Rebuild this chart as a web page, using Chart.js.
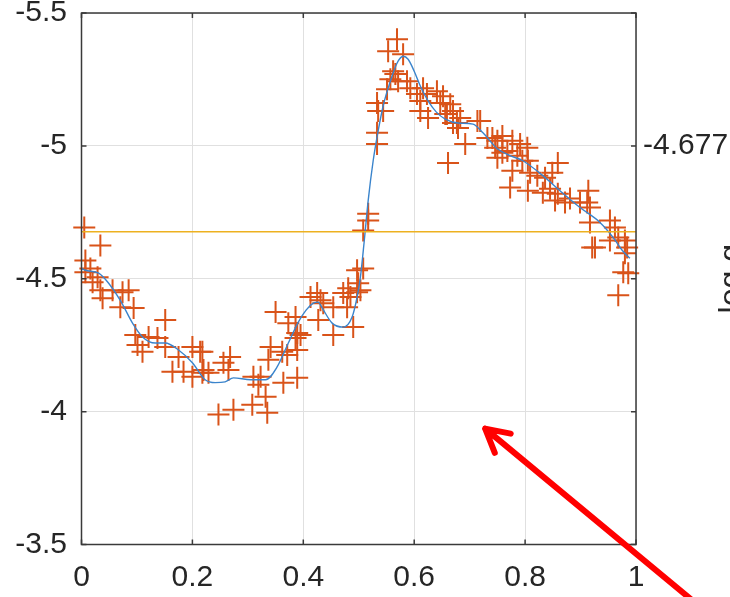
<!DOCTYPE html>
<html>
<head>
<meta charset="utf-8">
<script src="https://cdn.jsdelivr.net/npm/chart.js@4/dist/chart.umd.min.js"></script>
<style>
  html, body { margin: 0; padding: 0; background: #fff; overflow: hidden; }
  canvas { display: block; }
</style>
</head>
<body>
<canvas id="c" width="730" height="597"></canvas>
<script>
// Axis ticks
const xTicks = [0, 0.2, 0.4, 0.6, 0.8, 1];
const yTicks = [-5.5, -5, -4.5, -4, -3.5];
const rightTickValues = [-5];
const rightTickLabels = ['-4.677'];
const rightCaption = 'log g';

// Reference level
const refLevel = -4.677;

// Observed phase / magnitude samples
const obsX = [
  0.005, 0.034, 0.007, 0.016, 0.029, 0.007, 0.020, 0.034, 0.038, 0.056,
  0.074, 0.085, 0.094, 0.070, 0.151, 0.097, 0.121, 0.137, 0.101, 0.110,
  0.151, 0.175, 0.200, 0.218, 0.184, 0.164, 0.200, 0.218, 0.229,
  0.220, 0.214, 0.256, 0.268, 0.265, 0.310, 0.323, 0.319, 0.332, 0.308,
  0.274, 0.247, 0.335, 0.364, 0.389, 0.337, 0.362, 0.371, 0.389, 0.350,
  0.373, 0.386, 0.389, 0.386, 0.395, 0.413, 0.425, 0.431, 0.436, 0.454,
  0.454, 0.427, 0.472, 0.485, 0.490, 0.479, 0.499, 0.503, 0.497, 0.341,
  0.481, 0.497, 0.508, 0.508, 0.517, 0.517, 0.533, 0.533, 0.535, 0.544,
  0.533, 0.551, 0.557, 0.566, 0.562, 0.571, 0.553, 0.569, 0.580, 0.587,
  0.593, 0.605, 0.611, 0.616, 0.623, 0.611, 0.625, 0.641, 0.647, 0.659,
  0.670, 0.677, 0.661,
  0.652, 0.665, 0.656, 0.670, 0.683, 0.679, 0.692, 0.714, 0.719, 0.732,
  0.741, 0.750, 0.759, 0.746, 0.750, 0.759, 0.768, 0.777, 0.791, 0.804,
  0.786, 0.795, 0.805, 0.777, 0.773, 0.809, 0.805, 0.822, 0.832,
  0.859, 0.849, 0.836, 0.845, 0.859, 0.854, 0.872, 0.881, 0.899, 0.914,
  0.912, 0.917, 0.917, 0.953, 0.962, 0.921, 0.926, 0.953, 0.968, 0.980,
  0.984, 0.980, 0.986, 0.977, 0.968
];
const obsY = [
  -4.693, -4.625, -4.569, -4.539, -4.506, -4.524, -4.487, -4.457, -4.427, -4.457,
  -4.449, -4.457, -4.390, -4.393, -4.345, -4.288, -4.281, -4.277, -4.251, -4.225,
  -4.243, -4.206, -4.243, -4.225, -4.150, -4.150, -4.131, -4.146, -4.146,
  -4.157, -4.225, -4.184, -4.206, -4.157, -4.131, -4.131, -4.101, -4.056, -4.026,
  -4.007, -3.989, -3.996, -4.109, -4.127, -4.195, -4.225, -4.213, -4.232, -4.375,
  -4.333, -4.356, -4.296, -4.277, -4.288, -4.431, -4.446, -4.419, -4.408, -4.393,
  -4.288, -4.345, -4.446, -4.431, -4.318, -4.393, -4.483, -4.457, -4.532, -4.243,
  -4.464, -4.449, -4.539, -4.682, -4.719, -4.745, -5.007, -5.049, -5.131, -5.131,
  -5.161, -5.213, -5.251, -5.270, -5.281, -5.243, -5.356, -5.401, -5.345, -5.243,
  -5.217, -5.195, -5.169, -5.217, -5.195, -5.131, -5.105, -5.206, -5.161, -5.120,
  -5.131, -5.086, -4.936,
  -5.187, -5.157, -5.120, -5.086, -5.105, -5.067, -5.007, -5.094, -5.094, -5.030,
  -5.030, -5.019, -5.037, -4.993, -4.955, -4.974, -4.981, -5.019, -5.007, -4.993,
  -4.963, -4.944, -4.944, -4.906, -4.843, -4.899, -4.831, -4.888, -4.824,
  -4.936, -4.899, -4.880, -4.839, -4.820, -4.794, -4.787, -4.802, -4.787, -4.831,
  -4.787, -4.768, -4.712, -4.719, -4.693, -4.618, -4.618, -4.644, -4.655, -4.644,
  -4.618, -4.596, -4.521, -4.524, -4.438
];

// Smoothed fit through the samples
const fitX = [
  0.000, 0.007, 0.031, 0.049, 0.070, 0.092, 0.110, 0.133, 0.151, 0.175,
  0.200, 0.223, 0.241, 0.259, 0.274, 0.305, 0.332, 0.353, 0.373, 0.391,
  0.405, 0.418, 0.427, 0.434, 0.452, 0.472, 0.488, 0.497, 0.503, 0.510,
  0.517, 0.526, 0.535, 0.544, 0.557, 0.569, 0.580, 0.589, 0.600, 0.611,
  0.625, 0.640, 0.656, 0.679, 0.706, 0.724, 0.750, 0.773, 0.796, 0.832,
  0.863, 0.899, 0.935, 0.959, 0.975, 0.989
];
const fitY = [
  -4.539, -4.532, -4.521, -4.483, -4.419, -4.333, -4.281, -4.258, -4.258, -4.232,
  -4.184, -4.120, -4.109, -4.112, -4.127, -4.120, -4.120, -4.169, -4.258, -4.337,
  -4.382, -4.408, -4.412, -4.390, -4.333, -4.318, -4.356, -4.431, -4.506, -4.644,
  -4.794, -4.944, -5.056, -5.150, -5.243, -5.311, -5.337, -5.326, -5.281, -5.225,
  -5.169, -5.127, -5.101, -5.086, -5.082, -5.049, -4.989, -4.963, -4.944, -4.888,
  -4.831, -4.768, -4.712, -4.655, -4.607, -4.577
];

// Pointer annotation (data coordinates: tip, then tail)
const arrowTip = [0.728, -3.936];
const arrowTail = [1.169, -3.173];

const FONT = "'Liberation Sans', Arial, sans-serif";
const INK = '#262626';
const NO_TICK = 'rgba(0,0,0,0)';

const framePlugin = {
  id: 'frame',
  afterDatasetsDraw(chart) {
    const { ctx, chartArea: a, scales } = chart;
    ctx.save();
    // box
    ctx.strokeStyle = '#3a3a3a';
    ctx.lineWidth = 1.5;
    ctx.strokeRect(a.left, a.top, a.right - a.left, a.bottom - a.top);
    // inward tick marks on all four sides
    const t = 5;
    ctx.beginPath();
    xTicks.forEach(v => {
      const p = scales.x.getPixelForValue(v);
      ctx.moveTo(p, a.bottom); ctx.lineTo(p, a.bottom - t);
      ctx.moveTo(p, a.top); ctx.lineTo(p, a.top + t);
    });
    yTicks.forEach(v => {
      const p = scales.y.getPixelForValue(v);
      ctx.moveTo(a.left, p); ctx.lineTo(a.left + t, p);
      ctx.moveTo(a.right, p); ctx.lineTo(a.right - t, p);
    });
    ctx.stroke();
    ctx.restore();
  },
  afterDraw(chart) {
    const { ctx, chartArea: a, scales } = chart;
    ctx.save();
    // right-hand axis caption, rotated
    ctx.fillStyle = INK;
    ctx.font = '32px ' + FONT;
    ctx.translate(a.right + 105, (a.top + a.bottom) / 2);
    ctx.rotate(-Math.PI / 2);
    ctx.textAlign = 'center';
    ctx.textBaseline = 'alphabetic';
    ctx.fillText(rightCaption, 0, 0);
    ctx.restore();

    // red pointer arrow
    const tx = scales.x.getPixelForValue(arrowTip[0]);
    const ty = scales.y.getPixelForValue(arrowTip[1]);
    const sx = scales.x.getPixelForValue(arrowTail[0]);
    const sy = scales.y.getPixelForValue(arrowTail[1]);
    const ang = Math.atan2(sy - ty, sx - tx);
    const head = 26, spread = 0.5;
    ctx.save();
    ctx.strokeStyle = '#ff0000';
    ctx.lineWidth = 6;
    ctx.lineCap = 'round';
    ctx.lineJoin = 'round';
    ctx.beginPath();
    ctx.moveTo(sx, sy);
    ctx.lineTo(tx, ty);
    ctx.moveTo(tx + head * Math.cos(ang - spread), ty + head * Math.sin(ang - spread));
    ctx.lineTo(tx, ty);
    ctx.lineTo(tx + head * Math.cos(ang + spread), ty + head * Math.sin(ang + spread));
    ctx.stroke();
    ctx.restore();
  }
};

const tickFont = { family: FONT, size: 30, lineHeight: 0.7 };

new Chart(document.getElementById('c'), {
  type: 'scatter',
  data: {
    datasets: [
      {
        type: 'line',
        data: [{ x: 0, y: refLevel }, { x: 1, y: refLevel }],
        borderColor: '#EDB120',
        borderWidth: 1.6,
        pointRadius: 0,
        order: 0
      },
      {
        type: 'line',
        data: fitX.map((x, i) => ({ x, y: fitY[i] })),
        borderColor: '#3a84cc',
        borderWidth: 1.4,
        pointRadius: 0,
        cubicInterpolationMode: 'monotone',
        order: 1
      },
      {
        data: obsX.map((x, i) => ({ x, y: obsY[i] })),
        pointStyle: 'cross',
        pointRadius: 11,
        pointHoverRadius: 11,
        borderColor: '#D95319',
        backgroundColor: '#D95319',
        borderWidth: 2,
        clip: false,
        order: 2
      }
    ]
  },
  options: {
    responsive: false,
    animation: false,
    devicePixelRatio: 1,
    layout: { padding: { top: 12.5, left: 0, right: 0, bottom: 0 } },
    plugins: { legend: { display: false }, tooltip: { enabled: false } },
    scales: {
      x: {
        type: 'linear',
        min: 0, max: 1,
        afterBuildTicks: s => { s.ticks = xTicks.map(v => ({ value: v })); },
        afterFit: s => { s.height = 52.5; },
        ticks: { callback: v => String(v), color: INK, font: tickFont, padding: 0, maxRotation: 0 },
        grid: { color: '#e0e0e0', lineWidth: 1, drawTicks: true, tickLength: 22.5, tickColor: NO_TICK },
        border: { display: false }
      },
      y: {
        type: 'linear',
        position: 'left',
        min: -5.5, max: -3.5,
        reverse: true,
        afterBuildTicks: s => { s.ticks = yTicks.map(v => ({ value: v })); },
        afterFit: s => { s.width = 81.5; },
        ticks: { callback: v => String(v), color: INK, font: tickFont, padding: 0 },
        grid: { color: '#e0e0e0', lineWidth: 1, drawTicks: true, tickLength: 14.5, tickColor: NO_TICK },
        border: { display: false }
      },
      y2: {
        type: 'linear',
        position: 'right',
        min: -5.5, max: -3.5,
        reverse: true,
        afterBuildTicks: s => { s.ticks = rightTickValues.map(v => ({ value: v })); },
        afterFit: s => { s.width = 94; },
        ticks: { callback: (v, i) => rightTickLabels[i], color: INK, font: tickFont, padding: 0 },
        grid: { drawOnChartArea: false, drawTicks: true, tickLength: 7, tickColor: NO_TICK },
        border: { display: false }
      }
    }
  },
  plugins: [framePlugin]
});
</script>
</body>
</html>
